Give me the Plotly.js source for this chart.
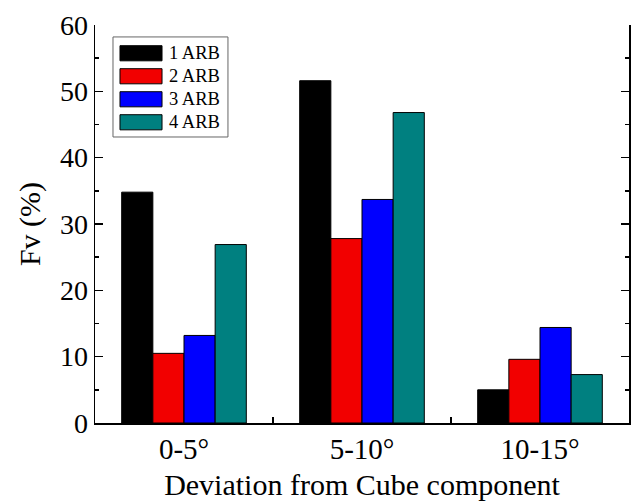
<!DOCTYPE html>
<html>
<head>
<meta charset="utf-8">
<script src="https://cdn.plot.ly/plotly-3.0.1.min.js"></script>
<style>html,body{margin:0;padding:0;background:#fff;}#chart{width:633px;height:501px;}</style>
</head>
<body>
<div id="chart"></div>
<script>
const categories = ["0-5°", "5-10°", "10-15°"];
const seriesNames = ["1 ARB", "2 ARB", "3 ARB", "4 ARB"];
const arb1 = [34.8, 51.6, 5.0];
const arb2 = [10.5, 27.8, 9.6];
const arb3 = [13.2, 33.7, 14.4];
const arb4 = [26.9, 46.8, 7.3];
const colors = ["#000000", "#f20000", "#0000ff", "#008080"];
const yTicks = [0, 10, 20, 30, 40, 50, 60];

const seriesValues = [arb1, arb2, arb3, arb4];
const font = "Liberation Serif, Times New Roman, serif";
const traces = seriesValues.map((v, i) => ({
  type: "bar",
  x: categories,
  y: v,
  name: seriesNames[i],
  marker: {color: colors[i], line: {color: "#000", width: 1}}
}));

// Custom legend (wide swatches like the original), in paper coordinates
const legTop = 0.929, legStep = 0.0578, swH = 0.019;
const shapes = [{
  type: "rect", xref: "paper", yref: "paper",
  x0: 0.0337, x1: 0.249, y0: 0.7186, y1: 0.970,
  line: {color: "#666", width: 1}, fillcolor: "#fff", layer: "below"
}];
const annotations = [];
seriesNames.forEach((n, i) => {
  const yc = legTop - i * legStep;
  shapes.push({
    type: "rect", xref: "paper", yref: "paper",
    x0: 0.0468, x1: 0.1255, y0: yc - swH, y1: yc + swH,
    fillcolor: colors[i], line: {color: "#000", width: 1}
  });
  annotations.push({
    xref: "paper", yref: "paper", x: 0.135, y: yc,
    xanchor: "left", yanchor: "middle", showarrow: false,
    text: n, font: {family: font, size: 18.5, color: "#000"}
  });
});

const layout = {
  width: 633, height: 501,
  margin: {l: 95, r: 4, t: 25, b: 78},
  paper_bgcolor: "#fff", plot_bgcolor: "#fff",
  font: {family: font, color: "#000"},
  barmode: "group", bargap: 0.3, bargroupgap: 0,
  showlegend: false,
  shapes: shapes,
  annotations: annotations,
  xaxis: {
    type: "category",
    showline: true, linecolor: "#000", linewidth: 1.5,
    ticks: "inside", ticklen: 6, tickcolor: "#000", tickwidth: 1.5,
    tickson: "boundaries",
    tickfont: {family: font, size: 29},
    title: {text: "Deviation from Cube component", font: {family: font, size: 30}, standoff: 9},
    showgrid: false, zeroline: false, mirror: false
  },
  xaxis2: {
    overlaying: "x", side: "top", range: [-0.5, 2.5],
    tickvals: [0, 1, 2], showticklabels: false,
    ticks: "inside", ticklen: 6, tickcolor: "#000", tickwidth: 1.5,
    showline: true, linecolor: "#000", linewidth: 1.5,
    showgrid: false, zeroline: false
  },
  yaxis: {
    range: [0, 60], tickvals: yTicks,
    showline: true, linecolor: "#000", linewidth: 1.5, mirror: "ticks",
    ticks: "inside", ticklen: 8, tickcolor: "#000", tickwidth: 1.5,
    minor: {ticks: "inside", ticklen: 4, dtick: 5, tickcolor: "#000", tickwidth: 1.5, showgrid: false},
    tickfont: {family: font, size: 28},
    title: {text: "Fv (%)", font: {family: font, size: 30}, standoff: 10},
    showgrid: false, zeroline: false
  }
};

Plotly.newPlot("chart", traces, layout, {displayModeBar: false, staticPlot: true});
</script>
</body>
</html>
